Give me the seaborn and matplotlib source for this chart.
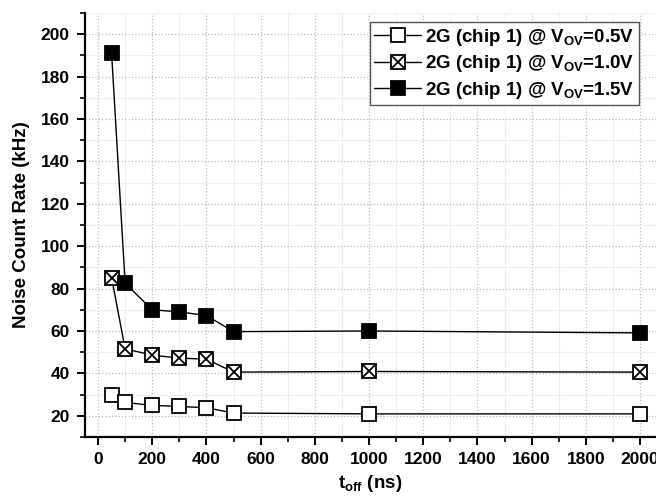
import matplotlib
matplotlib.use("Agg")
import matplotlib.pyplot as plt
import pandas as pd
import seaborn as sns
from matplotlib.ticker import MultipleLocator

# Data
t_off = [50, 100, 200, 300, 400, 500, 1000, 2000]
rate_05 = [29.9, 26.3, 24.9, 24.4, 23.8, 21.3, 20.9, 20.9]
rate_10 = [85.2, 51.6, 48.6, 47.2, 46.7, 40.6, 40.9, 40.6]
rate_15 = [191.2, 82.5, 70.0, 69.0, 67.3, 59.7, 60.0, 59.1]

labels = [
    r"2G (chip 1) @ V$_{\mathbf{OV}}$=0.5V",
    r"2G (chip 1) @ V$_{\mathbf{OV}}$=1.0V",
    r"2G (chip 1) @ V$_{\mathbf{OV}}$=1.5V",
]

sns.set_theme(style="white")
plt.rcParams.update({
    "font.family": ["Liberation Sans", "DejaVu Sans"],
    "font.weight": "bold",
    "axes.labelweight": "bold",
    "text.color": "black",
    "axes.labelcolor": "black",
    "mathtext.fontset": "custom",
    "mathtext.rm": "Liberation Sans:bold",
    "mathtext.bf": "Liberation Sans:bold",
    "mathtext.it": "Liberation Sans:bold",
})

df = pd.DataFrame({"t": t_off, "r05": rate_05, "r10": rate_10, "r15": rate_15})

fig = plt.figure(figsize=(6.56, 4.98), dpi=100)
ax = fig.add_axes([0.1296, 0.1225, 0.8704, 0.8515])

ms = 9.5
mk = dict(markersize=ms, markeredgecolor="black", markeredgewidth=1.3)
sns.lineplot(data=df, x="t", y="r05", ax=ax, color="black", lw=1,
             marker="s", markerfacecolor="white", **mk)
sns.lineplot(data=df, x="t", y="r10", ax=ax, color="black", lw=1,
             marker="s", markerfacecolor="white", **mk)
# the crossed square: overlay an "x" on the open square
sns.lineplot(data=df, x="t", y="r10", ax=ax, color="black", lw=0,
             marker="x", **mk)
sns.lineplot(data=df, x="t", y="r15", ax=ax, color="black", lw=1,
             marker="s", markerfacecolor="black", **mk)

lines = ax.get_lines()
handles = [lines[0], (lines[1], lines[2]), lines[3]]
leg = ax.legend(handles, labels, loc="upper right",
                bbox_to_anchor=(0.970, 0.979), borderaxespad=0,
                fancybox=False, framealpha=1, edgecolor="#555555",
                fontsize=13.5, handlelength=2.5, handletextpad=0.2,
                labelspacing=0.3, borderpad=0.25)
leg.get_frame().set_linewidth(1.0)

ax.set_xlim(-48, 2059)
ax.set_ylim(10, 210)
ax.xaxis.set_major_locator(MultipleLocator(200))
ax.xaxis.set_minor_locator(MultipleLocator(100))
ax.yaxis.set_minor_locator(MultipleLocator(10))
ax.set_yticks(range(20, 201, 20))

ax.grid(which="major", color="#bbbbbb", linestyle=":", linewidth=0.9)
ax.grid(which="minor", color="#eeeeee", linestyle="-", linewidth=0.8)
ax.set_axisbelow(True)

for side in ["top", "right"]:
    ax.spines[side].set_visible(False)
for side in ["left", "bottom"]:
    ax.spines[side].set_color("black")
    ax.spines[side].set_linewidth(1.6)

ax.tick_params(which="major", direction="out", length=6, width=1.4,
               colors="black", labelsize=12.5, bottom=True, left=True, pad=5)
ax.tick_params(which="minor", direction="out", length=3.5, width=1.2,
               colors="black", bottom=True, left=True)
for lab in ax.get_xticklabels() + ax.get_yticklabels():
    lab.set_fontweight("bold")

ax.set_xlabel(r"t$_{\mathbf{off}}$ (ns)", fontsize=13.5, labelpad=4)
ax.set_ylabel("Noise Count Rate (kHz)", fontsize=13.5, labelpad=8)

fig.savefig("out.png", dpi=100)
